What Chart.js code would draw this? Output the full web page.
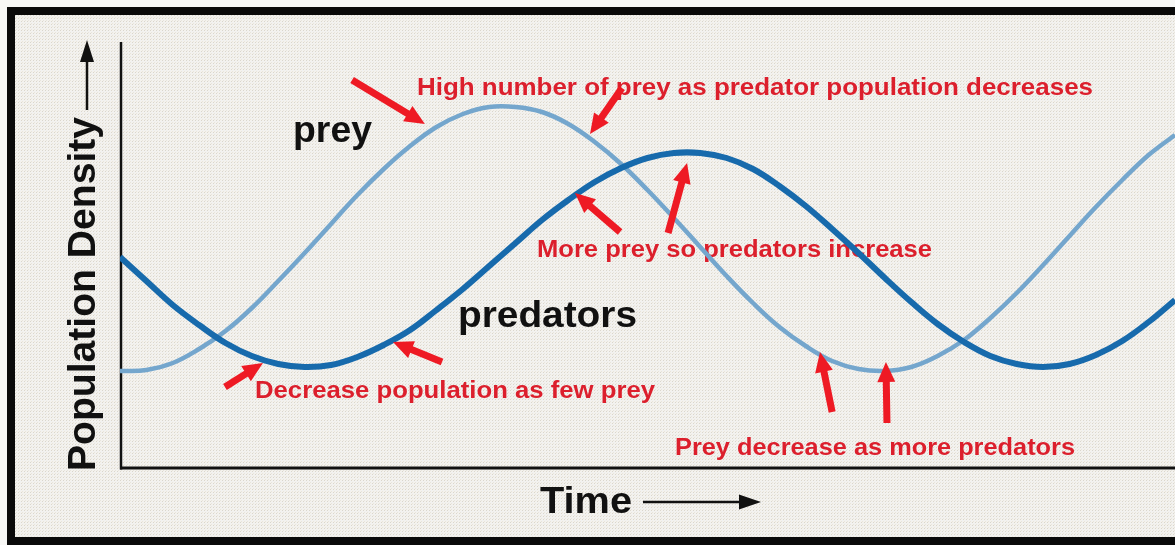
<!DOCTYPE html>
<html>
<head>
<meta charset="utf-8">
<script src="https://cdn.jsdelivr.net/npm/chart.js@4/dist/chart.umd.min.js"></script>
<style>
  html, body { margin: 0; padding: 0; background: #f7f7f5; }
  #wrap { width: 1175px; height: 545px; }
  canvas { display: block; }
</style>
</head>
<body>
<div id="wrap"><canvas id="c" width="1175" height="545"></canvas></div>
<script>
// ---- Data (time steps 0..40, population density in arbitrary units) ----
const timeSteps = [0,1,2,3,4,5,6,7,8,9,10,11,12,13,14,15,16,17,18,19,20,21,22,23,24,25,26,27,28,29,30,31,32,33,34,35,36,37,38,39,40];
const preyValues = [97,98,105,119,137,160,187,215,244,273,299,322,341,354,361,361,356,344,326,304,278,250,221,192,165,141,122,107,99,97,101,112,128,150,175,203,232,261,288,313,333];
const predatorValues = [211,187,163,143,125,112,104,101,103,111,123,138,158,179,202,225,248,268,286,300,310,315,315,310,299,282,262,239,215,190,166,144,126,112,104,101,104,113,127,146,168];
const seriesNames = ['predators', 'prey'];
const axisTitles = { x: 'Time', y: 'Population Density' };
const notes = [
  'High number of prey as predator population decreases',
  'More prey so predators increase',
  'Decrease population as few prey',
  'Prey decrease as more predators'
];
// arrows: [tailTime, tailValue, tipTime, tipValue] in data units
const arrows = [
  [8.80, 388, 11.56, 344],
  [19.03, 380, 17.82, 334],
  [18.96, 236, 17.25, 275],
  [20.78, 235, 21.50, 305],
  [3.98, 81, 5.42, 105],
  [12.21, 106, 10.35, 126],
  [27.00, 56, 26.54, 116],
  [29.08, 45, 29.04, 106]
];

const FONT = '"Liberation Sans", Arial, Helvetica, sans-serif';
const RED_TXT = '#dc1f2c';
const RED_ARW = '#ee1a24';

function makePattern(ctx) {
  const p = document.createElement('canvas');
  p.width = 3; p.height = 3;
  const g = p.getContext('2d');
  g.fillStyle = '#f4f2ed'; g.fillRect(0, 0, 3, 3);
  g.fillStyle = '#d9d6ce'; g.fillRect(0, 0, 1, 1);
  g.fillStyle = '#e7e4dd'; g.fillRect(1, 2, 1, 1);
  g.fillStyle = '#eef0f3'; g.fillRect(2, 1, 1, 1);
  return ctx.createPattern(p, 'repeat');
}

function txt(ctx, s, x, y, size, w, color, rotate) {
  ctx.save();
  ctx.font = 'bold ' + size + 'px ' + FONT;
  const m = ctx.measureText(s).width;
  ctx.translate(x, y);
  if (rotate) ctx.rotate(-Math.PI / 2);
  ctx.scale(w / m, 1);
  ctx.fillStyle = color;
  ctx.textBaseline = 'alphabetic';
  ctx.textAlign = 'left';
  ctx.fillText(s, 0, 0);
  ctx.restore();
}

function drawArrow(ctx, x1, y1, x2, y2, shaft, headLen, headW, color) {
  const dx = x2 - x1, dy = y2 - y1;
  const L = Math.hypot(dx, dy);
  const ux = dx / L, uy = dy / L;
  const bx = x2 - ux * headLen, by = y2 - uy * headLen;
  ctx.save();
  ctx.strokeStyle = color; ctx.fillStyle = color;
  ctx.lineWidth = shaft; ctx.lineCap = 'butt';
  ctx.beginPath(); ctx.moveTo(x1, y1); ctx.lineTo(bx + ux * 2, by + uy * 2); ctx.stroke();
  ctx.beginPath();
  ctx.moveTo(x2, y2);
  ctx.lineTo(bx - uy * headW / 2, by + ux * headW / 2);
  ctx.lineTo(bx + uy * headW / 2, by - ux * headW / 2);
  ctx.closePath(); ctx.fill();
  ctx.restore();
}

const decor = {
  id: 'decor',
  beforeDraw(chart) {
    const ctx = chart.ctx;
    ctx.save();
    ctx.fillStyle = '#f7f7f5';
    ctx.fillRect(0, 0, 1175, 545);
    ctx.fillStyle = makePattern(ctx);
    ctx.fillRect(11, 11, 1175, 530);
    ctx.strokeStyle = '#0a0a0a';
    ctx.lineWidth = 8;
    ctx.strokeRect(11, 11, 1180, 530);
    ctx.restore();
  },
  beforeDatasetsDraw(chart) {
    const ctx = chart.ctx;
    const a = chart.chartArea;
    ctx.save();
    // axes
    ctx.strokeStyle = '#111';
    ctx.lineWidth = 2.5;
    ctx.beginPath(); ctx.moveTo(a.left + 1, a.top); ctx.lineTo(a.left + 1, a.bottom + 1.5); ctx.stroke();
    ctx.lineWidth = 3;
    ctx.beginPath(); ctx.moveTo(a.left, a.bottom); ctx.lineTo(a.right, a.bottom); ctx.stroke();
    ctx.restore();

    // axis titles with arrows
    txt(ctx, axisTitles.y, 95, 471, 39, 354, '#111', true);
    drawArrow(ctx, 87, 110, 87, 40, 2.5, 22, 14, '#111');
    txt(ctx, axisTitles.x, 540, 513, 36, 92, '#111', false);
    drawArrow(ctx, 643, 502, 761, 502, 2.5, 22, 15, '#111');

    // series labels
    txt(ctx, seriesNames[1], 293, 142, 37, 79, '#111', false);
    txt(ctx, seriesNames[0], 458, 327, 37, 179, '#111', false);

    // red notes
    txt(ctx, notes[0], 417, 95, 24, 676, RED_TXT, false);
    txt(ctx, notes[1], 537, 257, 24, 395, RED_TXT, false);
    txt(ctx, notes[2], 255, 398, 24, 400, RED_TXT, false);
    txt(ctx, notes[3], 675, 455, 24, 400, RED_TXT, false);
  },
  afterDatasetsDraw(chart) {
    const ctx = chart.ctx;
    const xs = chart.scales.x, ys = chart.scales.y;
    arrows.forEach(([t1, v1, t2, v2]) => {
      drawArrow(ctx, xs.getPixelForValue(t1), ys.getPixelForValue(v1),
                xs.getPixelForValue(t2), ys.getPixelForValue(v2), 7, 20, 18, RED_ARW);
    });
  }
};

new Chart(document.getElementById('c'), {
  type: 'line',
  data: {
    datasets: [
      {
        label: seriesNames[0],
        data: timeSteps.map((t, i) => ({ x: t, y: predatorValues[i] })),
        borderColor: '#176aac',
        borderWidth: 6,
        pointRadius: 0,
        tension: 0.4,
        fill: false
      },
      {
        label: seriesNames[1],
        data: timeSteps.map((t, i) => ({ x: t, y: preyValues[i] })),
        borderColor: '#74a6cd',
        borderWidth: 4.5,
        pointRadius: 0,
        tension: 0.4,
        fill: false
      }
    ]
  },
  options: {
    responsive: false,
    animation: false,
    devicePixelRatio: 1,
    layout: { padding: { left: 120, right: 0, top: 42, bottom: 77 } },
    plugins: { legend: { display: false }, tooltip: { enabled: false } },
    scales: {
      x: { type: 'linear', min: 0, max: 40, display: false },
      y: { type: 'linear', min: 0, max: 426, display: false }
    }
  },
  plugins: [decor]
});
</script>
</body>
</html>
